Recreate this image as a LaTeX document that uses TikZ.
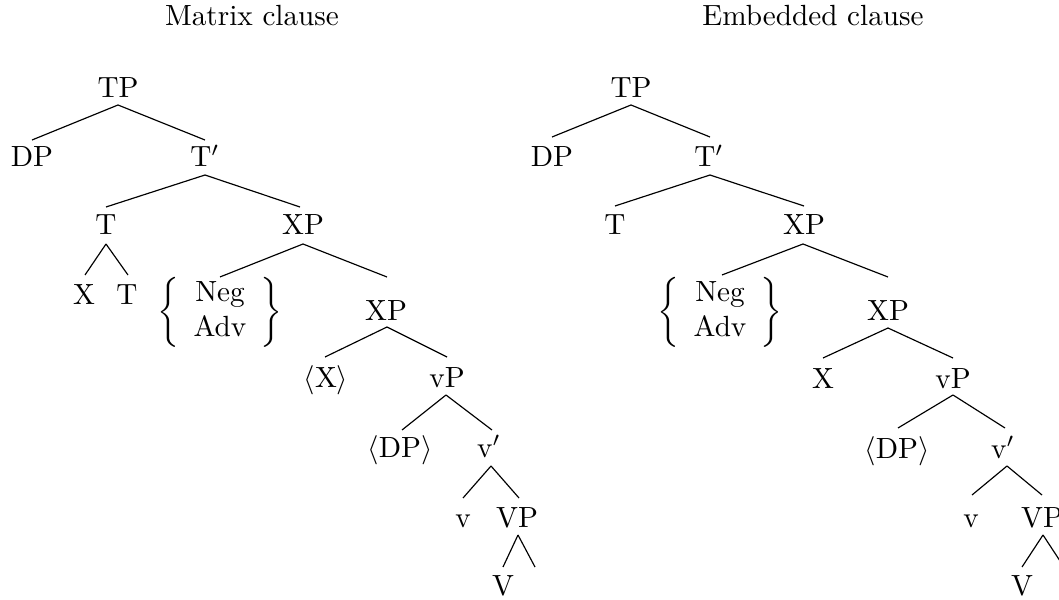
\documentclass[tikz,border=0pt]{standalone}
\usetikzlibrary{calc}
\begin{document}
\begin{tikzpicture}[x=0.3425pt,y=-0.3425pt,
  lab/.style={anchor=base,inner sep=0pt,outer sep=0pt},
  grp/.style={anchor=center,inner sep=0pt,outer sep=0pt},
  edge/.style={line width=0.4pt}]
\useasboundingbox (0,0) rectangle (1059,600);
% titles
\node[lab] (titleL) at (252,26) {Matrix clause};
\node[lab] (titleR) at (813,26) {Embedded clause};
% ---------- left tree ----------
\node[lab] (tpL)   at (118,98)  {TP};
\node[lab] (dpL)   at (32,167)  {DP};
\node[lab] (tbL)   at (205,167) {T$'$};
\node[lab] (tL)    at (106,235) {T};
\node[lab] (xpL)   at (303,235) {XP};
\node[lab] (xL)    at (84,305)  {X};
\node[lab] (ttL)   at (127,305) {T};
\node[grp] (negL)  at (220,312) {$\left\{\begin{array}{c}\mbox{Neg}\\\mbox{Adv}\end{array}\right\}$};
\node[lab] (xp2L)  at (386,320) {XP};
\node[lab] (axL)   at (326,387) {$\langle$X$\rangle$};
\node[lab] (vpL)   at (447,387) {vP};
\node[lab] (adpL)  at (400,457) {$\langle$DP$\rangle$};
\node[lab] (vbL)   at (489,457) {v$'$};
\node[lab] (vL)    at (463,527) {v};
\node[lab] (VPL)   at (517,527) {VP};
\node[lab] (VL)    at (503,595) {V};
\coordinate (eL) at (535,567);
\draw[edge] ($(tpL.base)+(0,7)$) -- ($(dpL.base)+(0,-27)$);
\draw[edge] ($(tpL.base)+(0,7)$) -- ($(tbL.base)+(0,-27)$);
\draw[edge] ($(tbL.base)+(0,8)$) -- ($(tL.base)+(0,-28)$);
\draw[edge] ($(tbL.base)+(0,8)$) -- ($(xpL.base)+(-3,-28)$);
\draw[edge] ($(tL.base)+(0,9)$) -- ($(xL.base)+(1,-30)$);
\draw[edge] ($(tL.base)+(0,9)$) -- ($(ttL.base)+(1,-30)$);
\draw[edge] ($(xpL.base)+(0,9)$) -- (negL.north);
\draw[edge] ($(xpL.base)+(0,9)$) -- ($(xp2L.base)+(1,-43)$);
\draw[edge] ($(xp2L.base)+(1,7)$) -- ($(axL.base)+(-1,-30)$);
\draw[edge] ($(xp2L.base)+(1,7)$) -- ($(vpL.base)+(0,-30)$);
\draw[edge] ($(vpL.base)+(-1,8)$) -- ($(adpL.base)+(2,-27)$);
\draw[edge] ($(vpL.base)+(-1,8)$) -- ($(vbL.base)+(3,-27)$);
\draw[edge] ($(vbL.base)+(2,9)$) -- ($(vL.base)+(0,-29)$);
\draw[edge] ($(vbL.base)+(2,9)$) -- ($(VPL.base)+(2,-29)$);
\draw[edge] ($(VPL.base)+(1,8)$) -- ($(VL.base)+(0,-28)$);
\draw[edge] ($(VPL.base)+(1,8)$) -- (eL);
% ---------- right tree ----------
\node[lab] (tpR)   at (631,98)  {TP};
\node[lab] (dpR)   at (552,167) {DP};
\node[lab] (tbR)   at (709,167) {T$'$};
\node[lab] (tR)    at (615,235) {T};
\node[lab] (xpR)   at (804,235) {XP};
\node[grp] (negR)  at (720,312) {$\left\{\begin{array}{c}\mbox{Neg}\\\mbox{Adv}\end{array}\right\}$};
\node[lab] (xp2R)  at (888,320) {XP};
\node[lab] (xR)    at (823,388) {X};
\node[lab] (vpR)   at (953,388) {vP};
\node[lab] (adpR)  at (897,458) {$\langle$DP$\rangle$};
\node[lab] (vbR)   at (1003,458) {v$'$};
\node[lab] (vR)    at (971,527) {v};
\node[lab] (VPR)   at (1042,527) {VP};
\node[lab] (VR)    at (1022,595) {V};
\coordinate (eR) at (1064,567);
\draw[edge] ($(tpR.base)+(0,7)$) -- ($(dpR.base)+(0,-30)$);
\draw[edge] ($(tpR.base)+(0,7)$) -- ($(tbR.base)+(1,-30)$);
\draw[edge] ($(tbR.base)+(1,8)$) -- ($(tR.base)+(0,-29)$);
\draw[edge] ($(tbR.base)+(1,8)$) -- ($(xpR.base)+(0,-29)$);
\draw[edge] ($(xpR.base)+(-1,9)$) -- ($(negR.north)+(2,-2)$);
\draw[edge] ($(xpR.base)+(-1,9)$) -- ($(xp2R.base)+(0,-43)$);
\draw[edge] ($(xp2R.base)+(0,8)$) -- ($(xR.base)+(0,-30)$);
\draw[edge] ($(xp2R.base)+(0,8)$) -- ($(vpR.base)+(0,-30)$);
\draw[edge] ($(vpR.base)+(0,7)$) -- ($(adpR.base)+(1,-30)$);
\draw[edge] ($(vpR.base)+(0,7)$) -- ($(vbR.base)+(2,-30)$);
\draw[edge] ($(vbR.base)+(4,8)$) -- ($(vR.base)+(1,-32)$);
\draw[edge] ($(vbR.base)+(4,8)$) -- ($(VPR.base)+(0,-32)$);
\draw[edge] ($(VPR.base)+(1,8)$) -- ($(VR.base)+(0,-28)$);
\draw[edge] ($(VPR.base)+(1,8)$) -- (eR);
\end{tikzpicture}
\end{document}
